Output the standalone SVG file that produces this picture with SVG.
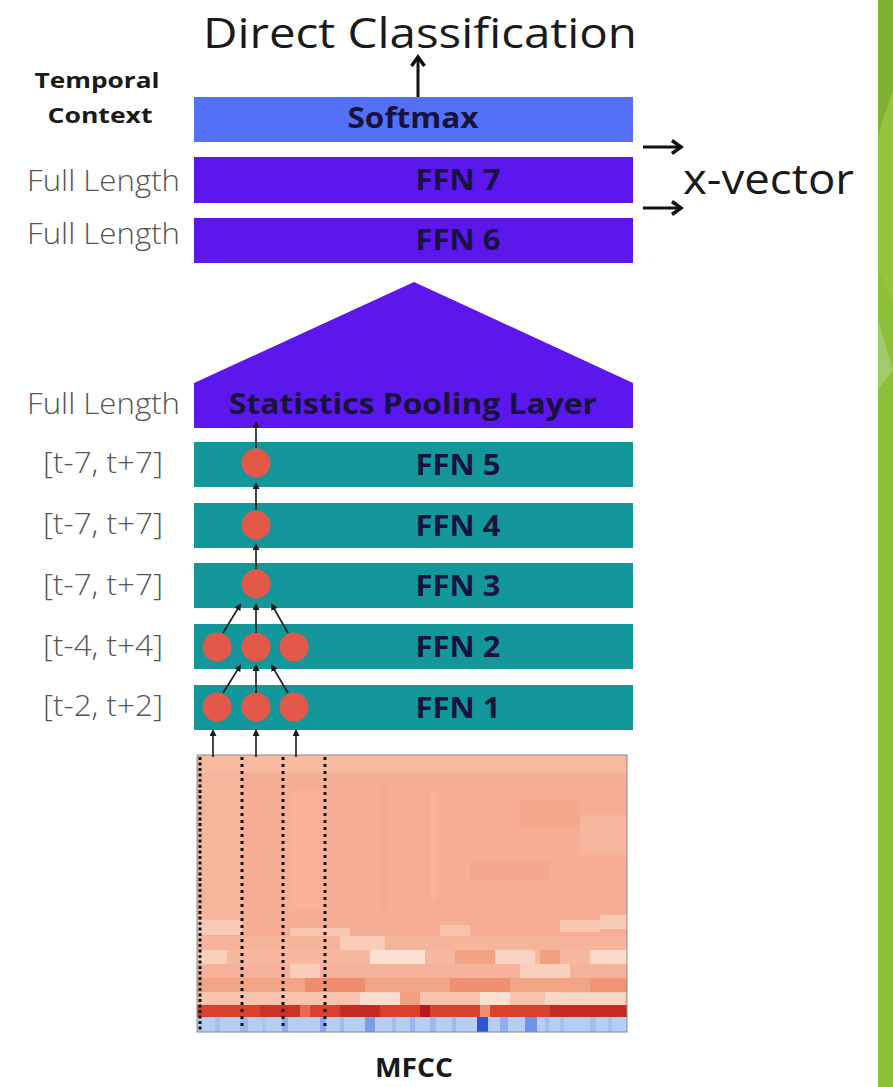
<svg xmlns="http://www.w3.org/2000/svg" width="893" height="1087" viewBox="0 0 893 1087">
<defs>
<style>
.lbl{font-family:"Open Sans","Noto Sans","Liberation Sans",sans-serif;fill:#555;font-size:29px;font-weight:300;}
.box{font-family:"Open Sans","Noto Sans","Liberation Sans",sans-serif;fill:#17133d;font-size:28px;font-weight:bold;text-anchor:middle;}
.big{font-family:"Open Sans","Noto Sans","Liberation Sans",sans-serif;fill:#1a1a1a;font-size:42px;font-weight:400;}
.hdr{font-family:"Open Sans","Noto Sans","Liberation Sans",sans-serif;fill:#1a1a1a;font-size:22px;font-weight:bold;text-anchor:middle;}
.teal{fill:#13979b;}
.purple{fill:#5b17ec;}
.node{fill:#e4584a;}
.conn{stroke:#1a1a1a;stroke-width:1.6;fill:none;marker-end:url(#ah);}
.dot{stroke:#111;stroke-width:3;fill:none;}
</style>
<marker id="ah" markerUnits="userSpaceOnUse" markerWidth="7" markerHeight="7" refX="5" refY="3.5" orient="auto">
<path d="M0,0 L7,3.5 L0,7 z" fill="#1a1a1a"/>
</marker>
<marker id="bh" markerUnits="userSpaceOnUse" markerWidth="16" markerHeight="16" refX="11" refY="8" orient="auto">
<path d="M3,1.5 L12,8 L3,14.5" fill="none" stroke="#111" stroke-width="3.5"/>
</marker>
</defs>
<rect x="0" y="0" width="893" height="1087" fill="#ffffff"/>

<!-- right green bar -->
<g id="greenbar">
<rect x="878" y="0" width="15" height="1087" fill="#8dbf38"/>
<polygon points="878,0 893,0 893,90 878,135" fill="#7fb031"/>
<polygon points="878,135 893,90 893,300 878,270" fill="#95c43e"/>
<polygon points="878,320 893,370 878,390" fill="#a3ca68"/>
</g>

<!-- top texts -->
<g id="title">
<text class="big" x="420" y="48" text-anchor="middle" textLength="434" lengthAdjust="spacingAndGlyphs">Direct Classification</text>
</g>
<g id="xvector">
<text class="big" x="683" y="194" font-size="45" textLength="171" lengthAdjust="spacingAndGlyphs">x-vector</text>
</g>
<g id="temporal-context">
<text class="hdr" x="97" y="88" textLength="125" lengthAdjust="spacingAndGlyphs">Temporal</text>
<text class="hdr" x="100" y="123" textLength="105" lengthAdjust="spacingAndGlyphs">Context</text>
</g>

<!-- left labels -->
<g id="labels">
<text class="lbl" x="27" y="191" textLength="153" lengthAdjust="spacingAndGlyphs">Full Length</text>
<text class="lbl" x="27" y="244" textLength="153" lengthAdjust="spacingAndGlyphs">Full Length</text>
<text class="lbl" x="27" y="414" textLength="153" lengthAdjust="spacingAndGlyphs">Full Length</text>
<text class="lbl" x="43" y="473" textLength="120" lengthAdjust="spacingAndGlyphs">[t-7, t+7]</text>
<text class="lbl" x="43" y="534" textLength="120" lengthAdjust="spacingAndGlyphs">[t-7, t+7]</text>
<text class="lbl" x="43" y="595" textLength="120" lengthAdjust="spacingAndGlyphs">[t-7, t+7]</text>
<text class="lbl" x="43" y="656" textLength="120" lengthAdjust="spacingAndGlyphs">[t-4, t+4]</text>
<text class="lbl" x="43" y="716" textLength="120" lengthAdjust="spacingAndGlyphs">[t-2, t+2]</text>
</g>

<!-- layers -->
<g id="softmax">
<rect x="194" y="97" width="439" height="45" fill="#5470f7"/>
<text class="box" x="413" y="128" textLength="131" lengthAdjust="spacingAndGlyphs">Softmax</text>
</g>
<g id="ffn7">
<rect class="purple" x="194" y="157" width="439" height="46"/>
<text class="box" x="458" y="190" textLength="85" lengthAdjust="spacingAndGlyphs">FFN 7</text>
</g>
<g id="ffn6">
<rect class="purple" x="194" y="218" width="439" height="45"/>
<text class="box" x="458" y="250" textLength="85" lengthAdjust="spacingAndGlyphs">FFN 6</text>
</g>
<g id="stats-pooling">
<polygon class="purple" points="194,383 414,282 633,383 633,428 194,428"/>
<text class="box" x="413" y="414" font-size="29" textLength="368" lengthAdjust="spacingAndGlyphs">Statistics Pooling Layer</text>
</g>
<g id="ffn5">
<rect class="teal" x="194" y="442" width="439" height="45"/>
<text class="box" x="458" y="475" textLength="85" lengthAdjust="spacingAndGlyphs">FFN 5</text>
</g>
<g id="ffn4">
<rect class="teal" x="194" y="503" width="439" height="45"/>
<text class="box" x="458" y="536" textLength="85" lengthAdjust="spacingAndGlyphs">FFN 4</text>
</g>
<g id="ffn3">
<rect class="teal" x="194" y="563" width="439" height="45"/>
<text class="box" x="458" y="596" textLength="85" lengthAdjust="spacingAndGlyphs">FFN 3</text>
</g>
<g id="ffn2">
<rect class="teal" x="194" y="624" width="439" height="45"/>
<text class="box" x="458" y="657" textLength="85" lengthAdjust="spacingAndGlyphs">FFN 2</text>
</g>
<g id="ffn1">
<rect class="teal" x="194" y="685" width="439" height="45"/>
<text class="box" x="458" y="718" textLength="85" lengthAdjust="spacingAndGlyphs">FFN 1</text>
</g>

<!-- neurons -->
<g id="neurons">
<circle class="node" cx="256" cy="463" r="14.5"/>
<circle class="node" cx="256" cy="525" r="14.5"/>
<circle class="node" cx="256" cy="584" r="14.5"/>
<circle class="node" cx="217" cy="647" r="14.5"/>
<circle class="node" cx="256" cy="647" r="14.5"/>
<circle class="node" cx="294" cy="647" r="14.5"/>
<circle class="node" cx="217" cy="707" r="14.5"/>
<circle class="node" cx="256" cy="707" r="14.5"/>
<circle class="node" cx="294" cy="707" r="14.5"/>
</g>

<!-- MFCC heatmap -->
<g id="mfcc">
<rect x="197" y="755" width="430" height="250" fill="#f5ae93"/>
<rect x="197" y="755" width="430" height="18" fill="#f7b9a0"/>
<rect x="197" y="773" width="45" height="150" fill="#f7b59b"/>
<rect x="290" y="790" width="35" height="120" fill="#f6b196"/>
<rect x="380" y="780" width="8" height="130" fill="#f4aa8e"/>
<rect x="430" y="790" width="6" height="110" fill="#f6b39a"/>
<rect x="520" y="800" width="60" height="30" fill="#f4a88c"/>
<rect x="470" y="860" width="80" height="20" fill="#f3a98d"/>
<rect x="580" y="815" width="47" height="40" fill="#f6b59c"/>
<rect x="197" y="920" width="45" height="15" fill="#f9cab5"/>
<rect x="290" y="928" width="60" height="12" fill="#f8c6b0"/>
<rect x="440" y="925" width="30" height="12" fill="#f8c3ac"/>
<rect x="560" y="920" width="40" height="12" fill="#f8c5af"/>
<rect x="600" y="915" width="27" height="14" fill="#f9cbb6"/>
<rect x="197" y="936" width="430" height="14" fill="#f6b59b"/>
<rect x="340" y="936" width="45" height="14" fill="#f9cdb9"/>
<rect x="197" y="950" width="430" height="15" fill="#f6b89f"/>
<rect x="197" y="950" width="30" height="14" fill="#f9d0bd"/>
<rect x="370" y="950" width="55" height="14" fill="#fbe0d4"/>
<rect x="455" y="950" width="40" height="14" fill="#f3a184"/>
<rect x="495" y="950" width="40" height="14" fill="#f9d3c2"/>
<rect x="540" y="950" width="20" height="14" fill="#f2a080"/>
<rect x="590" y="950" width="37" height="14" fill="#fbdacb"/>
<rect x="197" y="964" width="430" height="14" fill="#f4b29a"/>
<rect x="290" y="964" width="30" height="14" fill="#f9cdb9"/>
<rect x="520" y="964" width="50" height="14" fill="#f9d0be"/>
<rect x="197" y="978" width="430" height="14" fill="#f2a487"/>
<rect x="305" y="978" width="60" height="14" fill="#ee8e6e"/>
<rect x="450" y="978" width="60" height="14" fill="#ee9070"/>
<rect x="590" y="978" width="37" height="14" fill="#ef9474"/>
<rect x="197" y="992" width="430" height="13" fill="#f7c3ad"/>
<rect x="360" y="992" width="40" height="13" fill="#fbdccd"/>
<rect x="400" y="992" width="20" height="13" fill="#f0a080"/>
<rect x="480" y="992" width="30" height="13" fill="#fbe0d2"/>
<rect x="545" y="992" width="80" height="13" fill="#fad5c4"/>
<rect x="197" y="1005" width="430" height="12" fill="#d9432e"/>
<rect x="260" y="1005" width="50" height="12" fill="#c93224"/>
<rect x="300" y="1005" width="10" height="12" fill="#e86a50"/>
<rect x="340" y="1005" width="40" height="12" fill="#c42a22"/>
<rect x="420" y="1005" width="10" height="12" fill="#b8171c"/>
<rect x="480" y="1005" width="10" height="12" fill="#f08f70"/>
<rect x="550" y="1005" width="77" height="12" fill="#c42b22"/>
<rect x="197" y="1017" width="430" height="15" fill="#b8cdf4"/>
<rect x="215" y="1017" width="5" height="15" fill="#a4bff2"/>
<rect x="240" y="1017" width="8" height="15" fill="#9cb6ee"/>
<rect x="262" y="1017" width="4" height="15" fill="#a9c2f2"/>
<rect x="282" y="1017" width="6" height="15" fill="#8facee"/>
<rect x="320" y="1017" width="6" height="15" fill="#8aa8ea"/>
<rect x="340" y="1017" width="4" height="15" fill="#a0baf0"/>
<rect x="365" y="1017" width="10" height="15" fill="#7c9ee8"/>
<rect x="392" y="1017" width="4" height="15" fill="#a2bcf1"/>
<rect x="410" y="1017" width="5" height="15" fill="#9bb6ef"/>
<rect x="430" y="1017" width="6" height="15" fill="#9cb8f0"/>
<rect x="452" y="1017" width="4" height="15" fill="#a0baf0"/>
<rect x="477" y="1017" width="11" height="15" fill="#2a55d8"/>
<rect x="500" y="1017" width="8" height="15" fill="#8fb0ef"/>
<rect x="525" y="1017" width="12" height="15" fill="#6d92e6"/>
<rect x="545" y="1017" width="4" height="15" fill="#a2bcf1"/>
<rect x="560" y="1017" width="4" height="15" fill="#a6c0f2"/>
<rect x="590" y="1017" width="6" height="15" fill="#a2bdf1"/>
<rect x="608" y="1017" width="4" height="15" fill="#a6c0f2"/>
<rect x="197" y="755" width="430" height="277" fill="none" stroke="#8a8a8a" stroke-width="1"/>
<line class="dot" x1="200" y1="757" x2="200" y2="1030" stroke-dasharray="3,2.5"/>
<line class="dot" x1="242" y1="757" x2="242" y2="1030" stroke-dasharray="3,4"/>
<line class="dot" x1="283" y1="757" x2="283" y2="1030" stroke-dasharray="3,4"/>
<line class="dot" x1="325" y1="757" x2="325" y2="1030" stroke-dasharray="3,4"/>
<text x="414" y="1077" font-family="'Open Sans','Noto Sans','Liberation Sans',sans-serif" font-size="26" font-weight="bold" fill="#1a1a1a" text-anchor="middle" textLength="78" lengthAdjust="spacingAndGlyphs">MFCC</text>
</g>

<!-- connectors -->
<g id="connectors">
<line x1="418" y1="97" x2="418" y2="58" stroke="#111" stroke-width="3" marker-end="url(#bh)"/>
<line x1="643" y1="147" x2="680" y2="147" stroke="#111" stroke-width="3" marker-end="url(#bh)"/>
<line x1="643" y1="208" x2="680" y2="208" stroke="#111" stroke-width="3" marker-end="url(#bh)"/>
<line class="conn" x1="213" y1="757" x2="213" y2="731"/>
<line class="conn" x1="256" y1="757" x2="256" y2="731"/>
<line class="conn" x1="296" y1="757" x2="296" y2="731"/>
<line class="conn" x1="223" y1="693" x2="240" y2="666"/>
<line class="conn" x1="256" y1="693" x2="256" y2="666"/>
<line class="conn" x1="288" y1="693" x2="272" y2="666"/>
<line class="conn" x1="223" y1="633" x2="240" y2="605"/>
<line class="conn" x1="256" y1="633" x2="256" y2="605"/>
<line class="conn" x1="288" y1="633" x2="272" y2="605"/>
<line class="conn" x1="256" y1="569" x2="256" y2="545"/>
<line class="conn" x1="256" y1="510" x2="256" y2="484"/>
<line class="conn" x1="256" y1="448" x2="256" y2="423"/>
</g>
</svg>
